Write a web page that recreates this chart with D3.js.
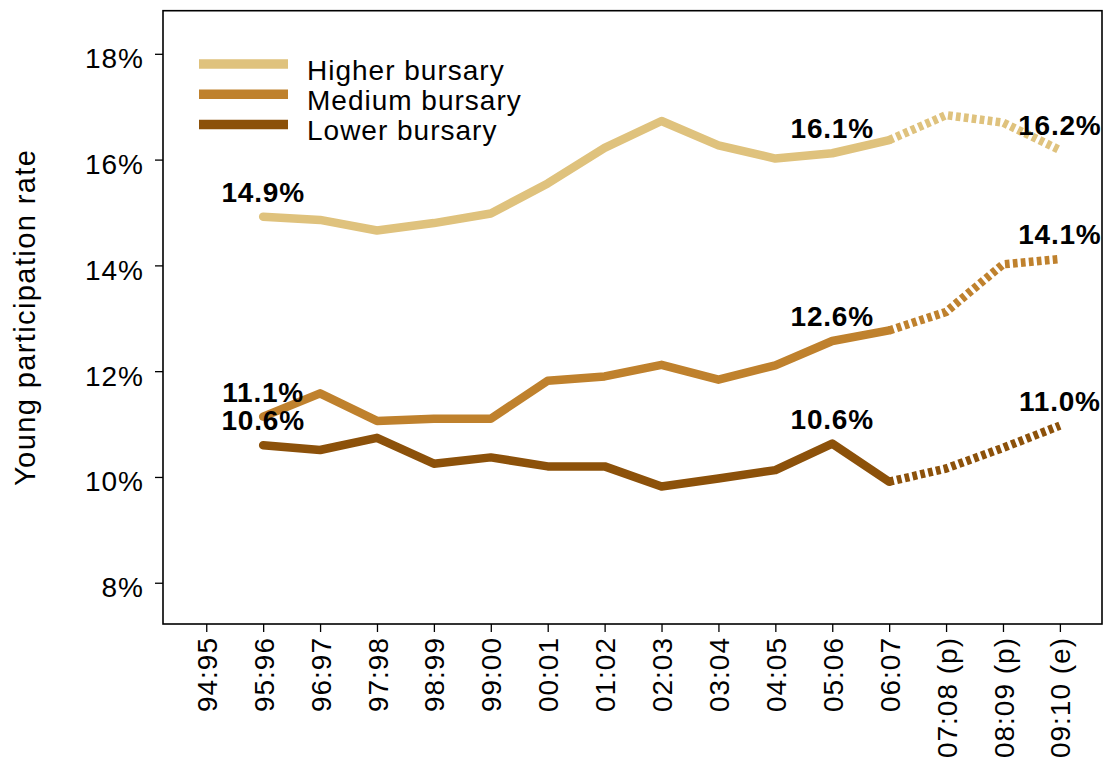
<!DOCTYPE html>
<html>
<head>
  <meta charset="utf-8"><script src="https://d3js.org/d3.v7.min.js"></script>
  <style>
    body { margin: 0; background: white; }
    text { font-family: "Liberation Sans", Arial, Helvetica, sans-serif; }
  </style>
</head>

<body onload="execute()">
  <svg id="mychart" width="1106" height="762" style="background: white" />
</body>
<script>
  // academic years, last three are provisional / estimated
  years = ["94:95", "95:96", "96:97", "97:98", "98:99", "99:00", "00:01", "01:02",
           "02:03", "03:04", "04:05", "05:06", "06:07", "07:08 (p)", "08:09 (p)", "09:10 (e)"]

  // young participation rate (%) by bursary group, no value for 94:95
  higher = [null, 14.92, 14.86, 14.66, 14.80, 14.98, 15.55, 16.22, 16.73, 16.27, 16.02, 16.12, 16.37, 16.84, 16.70, 16.18]
  medium = [null, 11.14, 11.58, 11.06, 11.10, 11.10, 11.82, 11.90, 12.12, 11.84, 12.11, 12.57, 12.77, 13.12, 14.02, 14.12]
  lower  = [null, 10.60, 10.51, 10.74, 10.25, 10.37, 10.20, 10.20, 9.82, 9.97, 10.13, 10.63, 9.91, 10.16, 10.55, 10.97]

  seriesNames = ["Higher bursary", "Medium bursary", "Lower bursary"]
  yTicks = [8, 10, 12, 14, 16, 18]
  labelled = [1, 11, 15]   // which years get a value label
  lastActual = 12          // 06:07, after that the line is dashed

  function execute() {
    width = 1106
    height = 762
    margin = ({top: 10.7, right: 4, bottom: 138, left: 163})

    colors = ["#dfc27d", "#bf812d", "#8c510a"]
    series = [higher, medium, lower].map((values, i) => ({name: seriesNames[i], color: colors[i], values}))

    x = d3.scaleLinear()
        .domain([-0.76, 15.74])
        .range([margin.left, width - margin.right])

    y = d3.scaleLinear()
        .domain([7.22, 18.815])
        .range([height - margin.bottom, margin.top])

    line = d3.line()
        .defined(d => d.v != null)
        .x(d => x(d.i))
        .y(d => y(d.v))

    svg = d3.select("#mychart")

    // y axis
    svg.append("g")
        .attr("transform", `translate(${margin.left},0)`)
        .call(d3.axisLeft(y).tickValues(yTicks).tickFormat(d => d + "%").tickSize(8).tickPadding(11))
        .call(g => g.select(".domain").remove())
        .call(g => g.selectAll(".tick line").attr("stroke", "#000").attr("stroke-width", 1.3))
        .call(g => g.selectAll(".tick text")
            .attr("font-size", 28)
            .attr("letter-spacing", 1)
            .attr("fill", "#000")
            .attr("dy", "0.5em"))

    // x axis, rotated labels
    svg.append("g")
        .attr("transform", `translate(0,${height - margin.bottom})`)
        .call(d3.axisBottom(x).tickValues(d3.range(years.length)).tickFormat(i => years[i]).tickSize(8))
        .call(g => g.select(".domain").remove())
        .call(g => g.selectAll(".tick line").attr("stroke", "#000").attr("stroke-width", 1.3))
        .call(g => g.selectAll(".tick text")
            .attr("font-size", 28)
            .attr("letter-spacing", 1)
            .attr("fill", "#000")
            .attr("transform", "rotate(-90)")
            .attr("text-anchor", "end")
            .attr("x", -13)
            .attr("y", 0)
            .attr("dy", "0.36em"))

    // frame
    svg.append("rect")
        .attr("x", margin.left)
        .attr("y", margin.top)
        .attr("width", width - margin.right - margin.left)
        .attr("height", height - margin.bottom - margin.top)
        .attr("fill", "none")
        .attr("stroke", "#000")
        .attr("stroke-width", 1.6)

    svg.append("text")
        .attr("transform", `translate(35,${(margin.top + height - margin.bottom) / 2}) rotate(-90)`)
        .attr("text-anchor", "middle")
        .attr("font-size", 29)
        .attr("letter-spacing", 1.4)
        .text("Young participation rate")

    // lines: solid for actual years, dashed for provisional
    series.forEach(s => {
      pts = s.values.map((v, i) => ({i, v}))
      svg.append("path")
          .datum(pts.filter(d => d.i <= lastActual))
          .attr("fill", "none")
          .attr("stroke", s.color)
          .attr("stroke-width", 8.5)
          .attr("stroke-linejoin", "round")
          .attr("stroke-linecap", "round")
          .attr("d", line)
      svg.append("path")
          .datum(pts.filter(d => d.i >= lastActual))
          .attr("fill", "none")
          .attr("stroke", s.color)
          .attr("stroke-width", 8.5)
          .attr("stroke-dasharray", "4.7,3.3")
          .attr("stroke-linejoin", "round")
          .attr("d", line)
    })

    // value labels
    series.forEach(s => {
      labelled.forEach(i => {
        svg.append("text")
            .attr("x", x(i))
            .attr("y", y(s.values[i]) - 15)
            .attr("text-anchor", "middle")
            .attr("font-size", 28)
            .attr("font-weight", "bold")
            .attr("letter-spacing", 0.8)
            .text(d3.format(".1f")(s.values[i]) + "%")
      })
    })

    // legend
    legend = svg.append("g")
        .selectAll("g")
        .data(series)
        .join("g")
        .attr("transform", (d, i) => `translate(199,${64 + i * 30.2})`)
    legend.append("line")
        .attr("x1", 0)
        .attr("x2", 89)
        .attr("stroke", d => d.color)
        .attr("stroke-width", 9.5)
    legend.append("text")
        .attr("x", 108)
        .attr("y", 16)
        .attr("font-size", 28)
        .attr("letter-spacing", 1)
        .text(d => d.name)
  }
</script>
</html>
